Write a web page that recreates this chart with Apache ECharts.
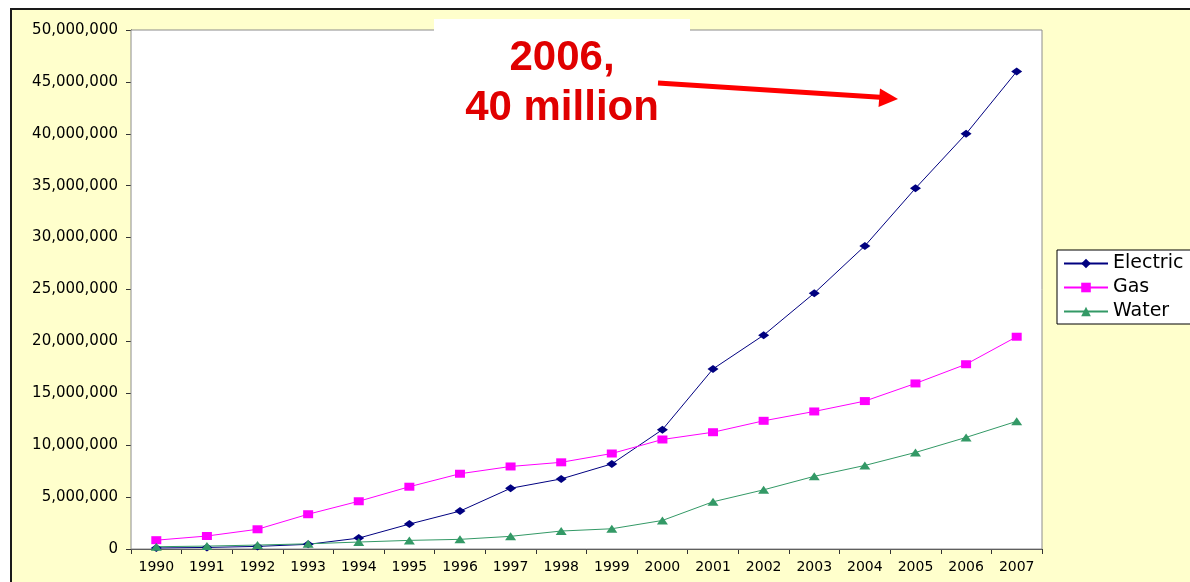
<!DOCTYPE html>
<html>
<head>
<meta charset="utf-8">
<script src="https://cdn.jsdelivr.net/npm/echarts@6/dist/echarts.min.js"></script>
<style>
  html, body { margin: 0; padding: 0; background: #ffffff; }
  #chart { width: 1190px; height: 582px; }
</style>
</head>
<body>
<div id="chart"></div>
<script>
// Years on the horizontal axis
const years = ['1990','1991','1992','1993','1994','1995','1996','1997','1998',
               '1999','2000','2001','2002','2003','2004','2005','2006','2007'];

// Yearly totals per utility
const electric = [100000, 150000, 250000, 450000, 1050000, 2400000, 3650000, 5850000, 6750000,
                  8200000, 11500000, 17350000, 20600000, 24650000, 29200000, 34750000, 40000000, 46000000];
const gas      = [850000, 1250000, 1900000, 3350000, 4600000, 6000000, 7250000, 7950000, 8350000,
                  9200000, 10550000, 11250000, 12350000, 13250000, 14250000, 15950000, 17800000, 20450000];
const water    = [220000, 280000, 380000, 500000, 670000, 830000, 930000, 1220000, 1730000,
                  1950000, 2750000, 4550000, 5700000, 7000000, 8050000, 9300000, 10750000, 12300000];

// Value axis range and step
const yMin = 0;
const yMax = 50000000;
const yStep = 5000000;

const labelFont = 'DejaVu Sans';

const chart = echarts.init(document.getElementById('chart'), null, { renderer: 'canvas' });

chart.setOption({
  backgroundColor: 'transparent',
  animation: false,
  grid: {
    left: 131, top: 30, right: 148, bottom: 33,
    show: true, backgroundColor: '#ffffff',
    borderColor: '#8c8c8c', borderWidth: 1, z: 1
  },
  legend: {
    data: ['Electric', 'Gas', 'Water'],
    orient: 'vertical',
    left: 1057, top: 250,
    backgroundColor: '#ffffff',
    borderColor: '#000000', borderWidth: 1, borderRadius: 0,
    padding: [4, 14, 3, 6],
    itemWidth: 44, itemHeight: 12, itemGap: 5,
    textStyle: { fontFamily: labelFont, fontSize: 19, color: '#000000' }
  },
  xAxis: {
    type: 'category',
    data: years,
    boundaryGap: true,
    axisLine: { lineStyle: { color: '#333333', width: 1 } },
    axisTick: { show: true, alignWithLabel: false, length: 5, lineStyle: { color: '#333333' } },
    axisLabel: { color: '#000000', fontFamily: labelFont, fontSize: 14, margin: 11, interval: 0 },
    splitLine: { show: false }
  },
  yAxis: {
    type: 'value',
    min: yMin, max: yMax, interval: yStep,
    axisLine: { show: true, lineStyle: { color: '#000000', width: 1 } },
    axisTick: { show: true, length: 5, lineStyle: { color: '#333333' } },
    axisLabel: {
      color: '#000000', fontFamily: labelFont, fontSize: 15, margin: 13,
      formatter: v => v.toLocaleString('en-US')
    },
    splitLine: { show: true, lineStyle: { color: '#6e6e6e', width: 1 } }
  },
  series: [
    {
      name: 'Electric', type: 'line', data: electric,
      symbol: 'diamond', symbolSize: [11, 8],
      lineStyle: { color: '#000080', width: 1 },
      itemStyle: { color: '#000080' }
    },
    {
      name: 'Gas', type: 'line', data: gas,
      symbol: 'rect', symbolSize: [10, 8],
      lineStyle: { color: '#ff00ff', width: 1 },
      itemStyle: { color: '#ff00ff' }
    },
    {
      name: 'Water', type: 'line', data: water,
      symbol: 'triangle', symbolSize: [11, 8],
      lineStyle: { color: '#339966', width: 1 },
      itemStyle: { color: '#339966' }
    }
  ],
  graphic: [
    // pale yellow chart frame behind everything
    {
      type: 'rect', z: -10, silent: true,
      shape: { x: 11, y: 9, width: 1200, height: 600 },
      style: { fill: '#ffffcc', stroke: '#1a1a1a', lineWidth: 2 }
    },
    // callout box
    {
      type: 'rect', z: 100, silent: true,
      shape: { x: 434, y: 19, width: 256, height: 115 },
      style: { fill: '#ffffff' }
    },
    {
      type: 'text', z: 101, silent: true,
      x: 562, y: 58,
      style: {
        text: '2006,', fill: '#e00000',
        font: 'bold 42px "Liberation Sans", Arial, sans-serif',
        align: 'center', verticalAlign: 'middle'
      }
    },
    {
      type: 'text', z: 101, silent: true,
      x: 562, y: 108,
      style: {
        text: '40 million', fill: '#e00000',
        font: 'bold 42px "Liberation Sans", Arial, sans-serif',
        align: 'center', verticalAlign: 'middle'
      }
    },
    // arrow pointing towards the 2006 value
    {
      type: 'line', z: 102, silent: true,
      shape: { x1: 658, y1: 83, x2: 884, y2: 97.5 },
      style: { stroke: '#ff0000', lineWidth: 5 }
    },
    {
      type: 'polygon', z: 102, silent: true,
      shape: { points: [[898, 99], [880, 88.5], [878.5, 107]] },
      style: { fill: '#ff0000' }
    }
  ]
});
</script>
</body>
</html>
